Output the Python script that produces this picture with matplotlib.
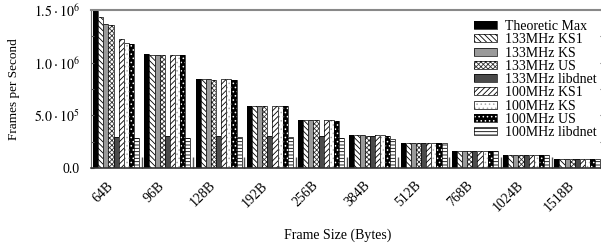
import numpy as np
import matplotlib
matplotlib.use("Agg")
import matplotlib.pyplot as plt
from matplotlib.legend_handler import HandlerTuple
from matplotlib.ticker import MultipleLocator, FixedLocator

plt.rcParams['font.family'] = ['Liberation Serif', 'DejaVu Serif']
plt.rcParams['mathtext.fontset'] = 'stix'
plt.rcParams['hatch.linewidth'] = 0.6

sizes = ['64B', '96B', '128B', '192B', '256B', '384B', '512B', '768B', '1024B', '1518B']

theoretic = [1488095, 1077586, 844594, 589622, 452898, 309405, 234962, 158629, 119731, 81274]
ks1_133 = [1431000, 1077000, 844000, 589000, 452000, 309000, 234900, 158600, 119700, 81270]
ks_133 = [1367000, 1077000, 844000, 589000, 452000, 309000, 234900, 158600, 119700, 81270]
us_133 = [1361000, 1073000, 840000, 588000, 451000, 308500, 234900, 158600, 119700, 81270]
lib_133 = [290000, 304000, 305000, 304000, 304000, 304000, 234900, 158600, 119700, 81270]
ks1_100 = [1225000, 1077000, 844000, 589000, 452000, 309000, 234900, 158600, 119700, 81270]
ks_100 = [1186000, 1077000, 844000, 589000, 452000, 309000, 234900, 158600, 119700, 81270]
us_100 = [1180000, 1070000, 838000, 587000, 450000, 308000, 234900, 158600, 119700, 81270]
lib_100 = [281000, 286000, 292000, 297000, 288000, 276000, 234000, 158600, 119700, 81270]

series = [
    ('Theoretic Max', theoretic, 'black', None, 'black'),
    ('133MHz KS1', ks1_133, 'white', '\\\\\\\\\\\\', 'black'),
    ('133MHz KS', ks_133, '#9a9a9a', None, '#9a9a9a'),
    ('133MHz US', us_133, 'white', 'xxxxxxx', '#333333'),
    ('133MHz libdnet', lib_133, '#4a4a4a', None, '#4a4a4a'),
    ('100MHz KS1', ks1_100, 'white', '//////', 'black'),
    ('100MHz KS', ks_100, 'white', '....', '#aaaaaa'),
    ('100MHz US', us_100, 'black', '....', 'white'),
    ('100MHz libdnet', lib_100, 'white', '-----', 'black'),
]

fig = plt.figure(figsize=(6.01, 2.43), dpi=100)
ax = fig.add_axes([90.5 / 601, 1 - 168 / 243, (603 - 90.5) / 601, (168 - 10) / 243])

x = np.arange(len(sizes))
w = 0.9 / len(series)
handles = []
for i, (name, vals, fc, hatch, hc) in enumerate(series):
    pos = x + (i - 4) * w
    b1 = ax.bar(pos, vals, w, color=fc, edgecolor=hc, hatch=hatch, linewidth=0)
    b2 = ax.bar(pos, vals, w, fill=False, edgecolor='black', linewidth=0.5)
    handles.append((b1[0], b2[0]))

ax.set_xlim(-0.5, 9.5)
ax.set_ylim(0, 1.5e6)

ax.set_xticks(x)
ax.set_xticklabels(sizes, rotation=45, ha='right', fontsize=10)
ax.xaxis.set_minor_locator(FixedLocator(x[:-1] + 0.5))
ax.tick_params(axis='x', which='major', length=0, pad=8)
ax.tick_params(axis='x', which='minor', direction='in', length=8, width=1, color='#555555')

ax.set_yticks([0, 0.5e6, 1.0e6, 1.5e6])
ax.set_yticklabels(['0.0', r'$5.0\cdot10^{5}$', r'$1.0\cdot10^{6}$', r'$1.5\cdot10^{6}$'], fontsize=10)
ax.yaxis.set_minor_locator(MultipleLocator(0.25e6))
ax.tick_params(axis='y', which='both', direction='in', length=2.5, width=0.8,
               color='#555555', left=True, right=True, pad=7.5)

for s in ['left', 'right']:
    ax.spines[s].set_color('#666666')
    ax.spines[s].set_linewidth(0.8)
ax.spines['top'].set_color('#888888')
ax.spines['top'].set_linewidth(1.5)
ax.spines['bottom'].set_color('#333333')
ax.spines['bottom'].set_linewidth(1.2)

fig.text(14.5 / 601, 1 - 89 / 243, 'Frames per Second', rotation=90,
         ha='center', va='center', fontsize=9.5)
fig.text(338 / 601, 1 - 235.5 / 243, 'Frame Size (Bytes)', ha='center', va='center', fontsize=10)

ax.legend(handles, [s[0] for s in series], handler_map={tuple: HandlerTuple(ndivide=1)},
          loc='upper right', bbox_to_anchor=(604 / 601, 1 - 13 / 243),
          bbox_transform=fig.transFigure, frameon=False, fontsize=10,
          borderpad=0, handlelength=1.63, handleheight=0.5, handletextpad=0.64,
          labelspacing=0.02)

fig.savefig('out.png', dpi=100)
